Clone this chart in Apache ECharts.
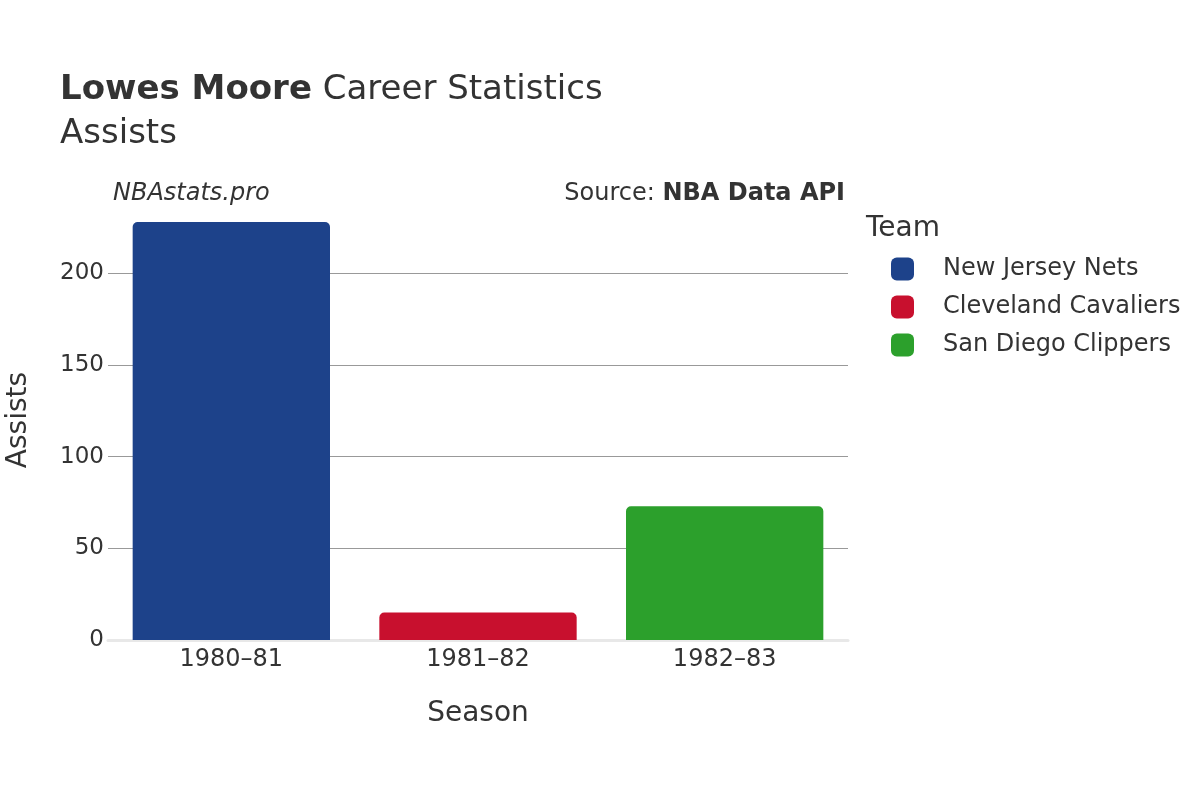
<!DOCTYPE html>
<html lang="en">
<head>
    <meta charset="UTF-8">
    <title>Lowes Moore Career Statistics</title>
    <script type="text/javascript" src="https://cdn.jsdelivr.net/npm/echarts@6/dist/echarts.min.js"></script>
    <style>
        html, body { margin: 0; padding: 0; background: #fff; }
        #chart { width: 1200px; height: 800px; }
    </style>
</head>
<body>
<div id="chart"></div>
<script type="text/javascript">
    // data
    var seasons = ['1980\u201381', '1981\u201382', '1982\u201383'];
    var teams = ['New Jersey Nets', 'Cleveland Cavaliers', 'San Diego Clippers'];
    var assists = [228, 15, 73];
    var yTicks = [0, 50, 100, 150, 200];

    var teamColors = ['#1d428a', '#c8102e', '#2ca02c'];
    var font = 'DejaVu Sans';
    var textColor = '#333333';

    // one series per team, each bar sits in its own season slot
    var series = teams.map(function (team, i) {
        var data = seasons.map(function (s, j) {
            return j === i ? assists[i] : '-';
        });
        return {
            name: team,
            type: 'bar',
            stack: 'all',
            barCategoryGap: '20%',
            data: data,
            itemStyle: {color: teamColors[i], borderRadius: [5, 5, 0, 0]}
        };
    });

    var chart = echarts.init(document.getElementById('chart'), null, {renderer: 'canvas'});
    var option = {
        animation: false,
        textStyle: {fontFamily: font, color: textColor},
        title: [
            {
                left: 60, top: 73, padding: 0,
                text: '{b|Lowes Moore}{n| Career Statistics}',
                textStyle: {
                    fontWeight: 'normal',
                    rich: {
                        b: {fontFamily: font, fontSize: 34, fontWeight: 'bold', color: textColor},
                        n: {fontFamily: font, fontSize: 34, fontWeight: 'normal', color: textColor}
                    }
                }
            },
            {
                left: 60, top: 117, padding: 0, text: 'Assists',
                textStyle: {fontFamily: font, fontSize: 34, fontWeight: 'normal', color: textColor}
            },
            {
                left: 113, top: 182, padding: 0, text: 'NBAstats.pro',
                textStyle: {fontFamily: font, fontSize: 24, fontStyle: 'italic', fontWeight: 'normal', color: textColor}
            },
            {
                right: 355, top: 182, padding: 0,
                text: '{n|Source: }{b|NBA Data API}',
                textStyle: {
                    fontWeight: 'normal',
                    rich: {
                        n: {fontFamily: font, fontSize: 24, fontWeight: 'normal', color: textColor},
                        b: {fontFamily: font, fontSize: 24, fontWeight: 'bold', color: textColor}
                    }
                }
            },
            {
                left: 866, top: 215, padding: 0, text: 'Team',
                textStyle: {fontFamily: font, fontSize: 28, fontWeight: 'normal', color: textColor}
            }
        ],
        legend: {
            orient: 'vertical',
            left: 891, top: 257, padding: 0,
            itemWidth: 23, itemHeight: 23, itemGap: 14,
            icon: 'roundRect',
            data: teams,
            textStyle: {fontFamily: font, fontSize: 24, color: textColor, padding: [0, 0, 0, 24]}
        },
        grid: {left: 108, right: 352, top: 200, bottom: 160, containLabel: false, outerBoundsMode: 'none'},
        xAxis: {
            type: 'category',
            data: seasons,
            name: 'Season',
            nameLocation: 'middle',
            nameGap: 60,
            nameTextStyle: {fontFamily: font, fontSize: 28, color: textColor},
            axisLine: {show: true, lineStyle: {color: '#e8e8e8', width: 3}},
            axisTick: {show: false},
            axisLabel: {fontFamily: font, fontSize: 24, color: textColor, margin: 8}
        },
        yAxis: {
            type: 'value',
            min: yTicks[0],
            max: 240,
            interval: 50,
            name: 'Assists',
            nameLocation: 'middle',
            nameGap: 75,
            nameTextStyle: {fontFamily: font, fontSize: 28, color: textColor},
            axisLine: {show: false},
            axisTick: {show: false},
            axisLabel: {fontFamily: font, fontSize: 23, color: textColor, margin: 4, showMaxLabel: false},
            splitLine: {show: true, showMinLine: false, showMaxLine: false, lineStyle: {color: '#999999', width: 1}}
        },
        series: series
    };
    chart.setOption(option);
</script>
</body>
</html>
